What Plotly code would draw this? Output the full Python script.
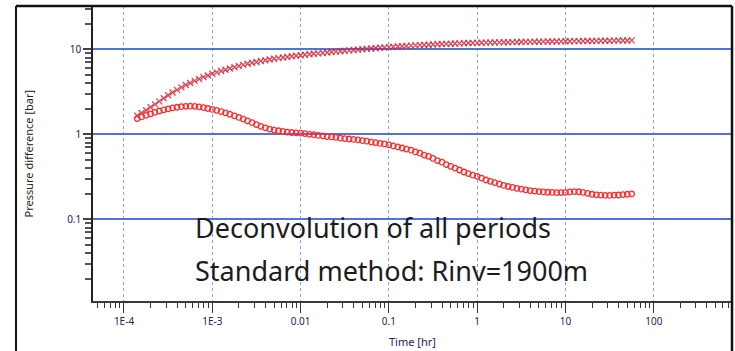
import plotly.graph_objects as go

# Time grid [hr] (20 points per decade)
time_hr = [
    1.41e-4, 1.58e-4, 1.78e-4, 2.00e-4, 2.24e-4, 2.51e-4, 2.82e-4, 3.16e-4, 3.55e-4, 3.98e-4,
    4.47e-4, 5.01e-4, 5.62e-4, 6.31e-4, 7.08e-4, 7.94e-4, 8.91e-4,
    1.00e-3, 1.12e-3, 1.26e-3, 1.41e-3, 1.58e-3, 1.78e-3, 2.00e-3, 2.24e-3, 2.51e-3, 2.82e-3,
    3.16e-3, 3.55e-3, 3.98e-3, 4.47e-3, 5.01e-3, 5.62e-3, 6.31e-3, 7.08e-3, 7.94e-3, 8.91e-3,
    1.00e-2, 1.12e-2, 1.26e-2, 1.41e-2, 1.58e-2, 1.78e-2, 2.00e-2, 2.24e-2, 2.51e-2, 2.82e-2,
    3.16e-2, 3.55e-2, 3.98e-2, 4.47e-2, 5.01e-2, 5.62e-2, 6.31e-2, 7.08e-2, 7.94e-2, 8.91e-2,
    0.100, 0.112, 0.126, 0.141, 0.158, 0.178, 0.200, 0.224, 0.251, 0.282,
    0.316, 0.355, 0.398, 0.447, 0.501, 0.562, 0.631, 0.708, 0.794, 0.891,
    1.00, 1.12, 1.26, 1.41, 1.58, 1.78, 2.00, 2.24, 2.51, 2.82,
    3.16, 3.55, 3.98, 4.47, 5.01, 5.62, 6.31, 7.08, 7.94, 8.91,
    10.0, 11.2, 12.6, 14.1, 15.8, 17.8, 20.0, 22.4, 25.1, 28.2,
    31.6, 35.5, 39.8, 44.7, 50.1, 56.2,
]

# Deconvolved pressure change [bar]
pressure_change = [
    1.65, 1.78, 1.92, 2.08, 2.25, 2.44, 2.65, 2.88, 3.10, 3.33,
    3.56, 3.80, 4.02, 4.25, 4.48, 4.70, 4.92,
    5.15, 5.35, 5.55, 5.75, 5.95, 6.15, 6.35, 6.55, 6.75, 6.93,
    7.10, 7.27, 7.43, 7.58, 7.73, 7.87, 8.00, 8.13, 8.26, 8.38,
    8.50, 8.62, 8.73, 8.84, 8.95, 9.06, 9.17, 9.28, 9.39, 9.50,
    9.60, 9.70, 9.80, 9.90, 10.00, 10.10, 10.20, 10.30, 10.40, 10.50,
    10.60, 10.69, 10.78, 10.87, 10.95, 11.03, 11.11, 11.18, 11.25, 11.32,
    11.39, 11.46, 11.52, 11.58, 11.64, 11.69, 11.74, 11.79, 11.83, 11.87,
    11.90, 11.93, 11.96, 11.99, 12.02, 12.05, 12.08, 12.10, 12.13, 12.16,
    12.18, 12.21, 12.23, 12.26, 12.28, 12.30, 12.32, 12.35, 12.37, 12.39,
    12.41, 12.43, 12.46, 12.48, 12.50, 12.52, 12.54, 12.56, 12.58, 12.60,
    12.62, 12.64, 12.66, 12.68, 12.70, 12.72,
]

# Deconvolved derivative [bar]
derivative = [
    1.53, 1.60, 1.67, 1.74, 1.81, 1.88, 1.94, 1.99, 2.04, 2.08,
    2.11, 2.13, 2.14, 2.13, 2.10, 2.06, 2.01,
    1.96, 1.91, 1.85, 1.79, 1.72, 1.65, 1.58, 1.51, 1.44, 1.37,
    1.30, 1.24, 1.19, 1.15, 1.12, 1.10, 1.08, 1.06, 1.05, 1.04,
    1.03, 1.02, 1.00, 0.99, 0.97, 0.96, 0.94, 0.93, 0.92, 0.90,
    0.89, 0.88, 0.87, 0.86, 0.84, 0.83, 0.81, 0.80, 0.78, 0.77,
    0.75, 0.73, 0.71, 0.69, 0.67, 0.65, 0.62, 0.60, 0.57, 0.55,
    0.52, 0.49, 0.47, 0.44, 0.42, 0.40, 0.38, 0.36, 0.345, 0.33,
    0.32, 0.305, 0.29, 0.28, 0.27, 0.26, 0.25, 0.243, 0.237, 0.231,
    0.226, 0.222, 0.218, 0.215, 0.212, 0.210, 0.208, 0.207, 0.206, 0.206,
    0.207, 0.210, 0.212, 0.211, 0.207, 0.202, 0.197, 0.194, 0.192, 0.191,
    0.191, 0.192, 0.193, 0.195, 0.197, 0.199,
]

x_tick_vals = [1e-4, 1e-3, 1e-2, 1e-1, 1, 10, 100]
x_tick_text = ["1E-4", "1E-3", "0.01", "0.1", "1", "10", "100"]
y_tick_vals = [0.1, 1, 10]
y_tick_text = ["0.1", "1", "10"]

note_lines = ["Deconvolution of all periods", "Standard method: Rinv=1900m"]
x_title = "Time [hr]"
y_title = "Pressure difference [bar]"

x_minor = [m * 10.0 ** e for e in range(-5, 3) for m in range(2, 10)]
y_minor = [m * 10.0 ** e for e in range(-2, 2) for m in range(2, 10)]

fig = go.Figure()
fig.add_trace(go.Scatter(
    x=time_hr, y=pressure_change, mode="markers",
    marker=dict(symbol="x-thin", size=6,
                line=dict(width=1.3, color="rgba(215,35,55,0.85)")),
    showlegend=False,
))
fig.add_trace(go.Scatter(
    x=time_hr, y=derivative, mode="markers",
    marker=dict(symbol="circle-open", size=5.5, color="#ff2a2a",
                line=dict(width=1.3, color="#ff2a2a")),
    showlegend=False,
))

tick_font = dict(family="Noto Sans, Open Sans, sans-serif", size=10, color="#23235a")

fig.update_xaxes(
    type="log", range=[-4.351, 2.886],
    tickmode="array", tickvals=x_tick_vals, ticktext=x_tick_text,
    ticks="outside", ticklen=10, tickwidth=1, tickcolor="#333333",
    tickfont=tick_font,
    showgrid=True, gridcolor="#86a0ec", gridwidth=1, griddash="dot",
    showline=True, linecolor="#3a3a3a", linewidth=2,
    minor=dict(tickmode="array", tickvals=x_minor, ticks="outside", ticklen=5,
               tickwidth=1, tickcolor="#333333", showgrid=False),
    zeroline=False,
)
fig.update_yaxes(
    type="log", range=[-1.961, 1.509],
    tickmode="array", tickvals=y_tick_vals, ticktext=y_tick_text,
    ticks="outside", ticklen=8, tickwidth=1.5, tickcolor="#444444",
    tickfont=tick_font,
    showgrid=True, gridcolor="#4f72de", gridwidth=1.5,
    showline=True, linecolor="#222222", linewidth=1.5,
    minor=dict(tickmode="array", tickvals=y_minor, ticks="outside", ticklen=6,
               tickwidth=1.5, tickcolor="#555555", showgrid=False),
    zeroline=False,
)

annos = [
    dict(text=x_title, xref="paper", yref="paper", x=0.5, y=-0.1356,
         xanchor="center", yanchor="middle", showarrow=False,
         font=dict(family="Noto Sans, sans-serif", size=11, color="#23235a")),
    dict(text=y_title, xref="paper", yref="paper", x=-0.1017, y=0.5,
         xanchor="center", yanchor="middle", textangle=-90, showarrow=False,
         font=dict(family="Noto Sans, sans-serif", size=11, color="#222222")),
]
for i, line in enumerate(note_lines):
    annos.append(dict(
        text=line, xref="paper", yref="paper", x=0.1565, y=[0.2475, 0.105][i],
        xanchor="left", yanchor="middle", showarrow=False,
        font=dict(family="Noto Sans, sans-serif", size=27, color="#1c1c1c"),
    ))

shapes = [
    dict(type="line", xref="paper", yref="paper", x0=-0.1205, x1=-0.1205, y0=1.0, y1=-0.2,
         line=dict(color="#111111", width=2)),
    dict(type="line", xref="paper", yref="paper", x0=-0.1205, x1=1.0, y0=1.0, y1=1.0,
         line=dict(color="#111111", width=2.5)),
    dict(type="line", xref="paper", yref="paper", x0=1.0, x1=1.0, y0=1.0, y1=-0.2,
         line=dict(color="#111111", width=2.5)),
]

fig.update_layout(
    width=735, height=351,
    margin=dict(l=93, r=3, t=6, b=50),
    paper_bgcolor="white", plot_bgcolor="white",
    annotations=annos, shapes=shapes,
)

fig.write_html("out.html")
